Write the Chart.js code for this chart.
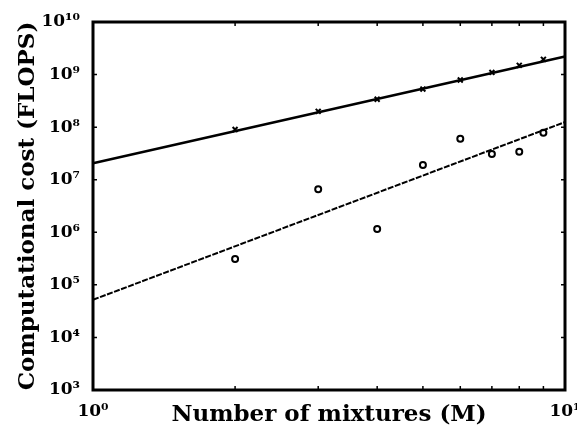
<!DOCTYPE html>
<html>
<head>
<meta charset="utf-8">
<script src="https://cdn.jsdelivr.net/npm/chart.js@4/dist/chart.umd.min.js"></script>
<style>
  html, body { margin: 0; padding: 0; background: #fff; }
  #wrap { width: 577px; height: 435px; position: relative; }
</style>
</head>
<body>
<div id="wrap"><canvas id="c" width="577" height="435"></canvas></div>
<script>
// ---- data ----
const mixtures   = [2, 3, 4, 5, 6, 7, 8, 9];
const costUpper  = [9.0e7, 2.0e8, 3.4e8, 5.3e8, 7.9e8, 1.1e9, 1.5e9, 1.95e9];
const costLower  = [3.1e5, 6.6e6, 1.15e6, 1.9e7, 6.0e7, 3.1e7, 3.4e7, 7.8e7];
const fitX       = [1, 10];
const fitUpper   = [2.05e7, 2.2e9];
const fitLower   = [5.2e4, 1.25e8];
const xTickValues = [1, 2, 3, 4, 5, 6, 7, 8, 9, 10];
const xTickLabels = {1: '10⁰', 10: '10¹'};
const yTickValues = [1e3, 1e4, 1e5, 1e6, 1e7, 1e8, 1e9, 1e10];
const yTickLabels = ['10³', '10⁴', '10⁵', '10⁶', '10⁷', '10⁸', '10⁹', '10¹⁰'];
const xTitle = 'Number of mixtures (M)';
const yTitle = 'Computational cost (FLOPS)';

const toPts = (xs, ys) => xs.map((x, i) => ({x: x, y: ys[i]}));

const framePlugin = {
  id: 'frame',
  afterDatasetsDraw(chart) {
    const ctx = chart.ctx, a = chart.chartArea;
    const xs = chart.scales.x, ys = chart.scales.y;
    ctx.save();
    ctx.strokeStyle = '#000';
    ctx.lineWidth = 1.5;
    const tl = 4;
    ctx.beginPath();
    xTickValues.forEach(v => {
      if (v === 1 || v === 10) return;
      const px = xs.getPixelForValue(v);
      ctx.moveTo(px, a.bottom); ctx.lineTo(px, a.bottom - tl);
      ctx.moveTo(px, a.top); ctx.lineTo(px, a.top + tl);
    });
    yTickValues.forEach(v => {
      const py = ys.getPixelForValue(v);
      ctx.moveTo(a.left, py); ctx.lineTo(a.left + tl, py);
      ctx.moveTo(a.right, py); ctx.lineTo(a.right - tl, py);
    });
    ctx.stroke();
    ctx.lineWidth = 3;
    ctx.strokeRect(a.left, a.top, a.right - a.left, a.bottom - a.top);
    ctx.restore();
  }
};

const serif = '"DejaVu Serif", "Liberation Serif", serif';

new Chart(document.getElementById('c'), {
  type: 'scatter',
  data: {
    datasets: [
      {
        label: 'fit upper',
        data: toPts(fitX, fitUpper),
        showLine: true,
        borderColor: '#000',
        borderWidth: 2.5,
        pointRadius: 0,
        fill: false
      },
      {
        label: 'fit lower',
        data: toPts(fitX, fitLower),
        showLine: true,
        borderColor: '#000',
        borderWidth: 2,
        borderDash: [6, 1.5],
        pointRadius: 0,
        fill: false
      },
      {
        label: 'upper',
        data: toPts(mixtures, costUpper),
        pointStyle: 'crossRot',
        pointRadius: 3.5,
        pointBorderWidth: 2,
        borderColor: '#000',
        backgroundColor: '#000',
        showLine: false
      },
      {
        label: 'lower',
        data: toPts(mixtures, costLower),
        pointStyle: 'circle',
        pointRadius: 3,
        pointBorderWidth: 2,
        borderColor: '#000',
        backgroundColor: '#fff',
        showLine: false
      }
    ]
  },
  options: {
    responsive: false,
    animation: false,
    devicePixelRatio: 1,
    clip: false,
    layout: { padding: { top: 22, right: 12, left: 0, bottom: 0 } },
    plugins: { legend: { display: false }, tooltip: { enabled: false } },
    scales: {
      x: {
        type: 'logarithmic',
        min: 1, max: 10,
        afterBuildTicks: s => { s.ticks = xTickValues.map(v => ({value: v})); },
        afterFit: s => { s.height = 45; s.paddingLeft = 0; s.paddingRight = 0; },
        grid: { display: false },
        border: { display: false },
        ticks: {
          autoSkip: false,
          maxRotation: 0,
          padding: 3,
          color: '#000',
          font: { family: serif, weight: 'bold', size: 17 },
          callback: v => xTickLabels[v] || ''
        },
        title: {
          display: true,
          text: xTitle,
          color: '#000',
          padding: { top: 0, bottom: 6 },
          font: { family: serif, weight: 'bold', size: 23 }
        }
      },
      y: {
        type: 'logarithmic',
        min: 1e3, max: 1e10,
        afterBuildTicks: s => { s.ticks = yTickValues.map(v => ({value: v})); },
        afterFit: s => { s.width = 93; s.paddingTop = 0; s.paddingBottom = 0; },
        grid: { display: false },
        border: { display: false },
        ticks: {
          autoSkip: false,
          padding: 5,
          color: '#000',
          font: { family: serif, weight: 'bold', size: 17 },
          callback: (v) => { const i = yTickValues.indexOf(v); return i >= 0 ? yTickLabels[i] : ''; }
        },
        title: {
          display: true,
          text: yTitle,
          color: '#000',
          padding: { top: 14, bottom: 0 },
          font: { family: serif, weight: 'bold', size: 23 }
        }
      }
    }
  },
  plugins: [framePlugin]
});
</script>
</body>
</html>
